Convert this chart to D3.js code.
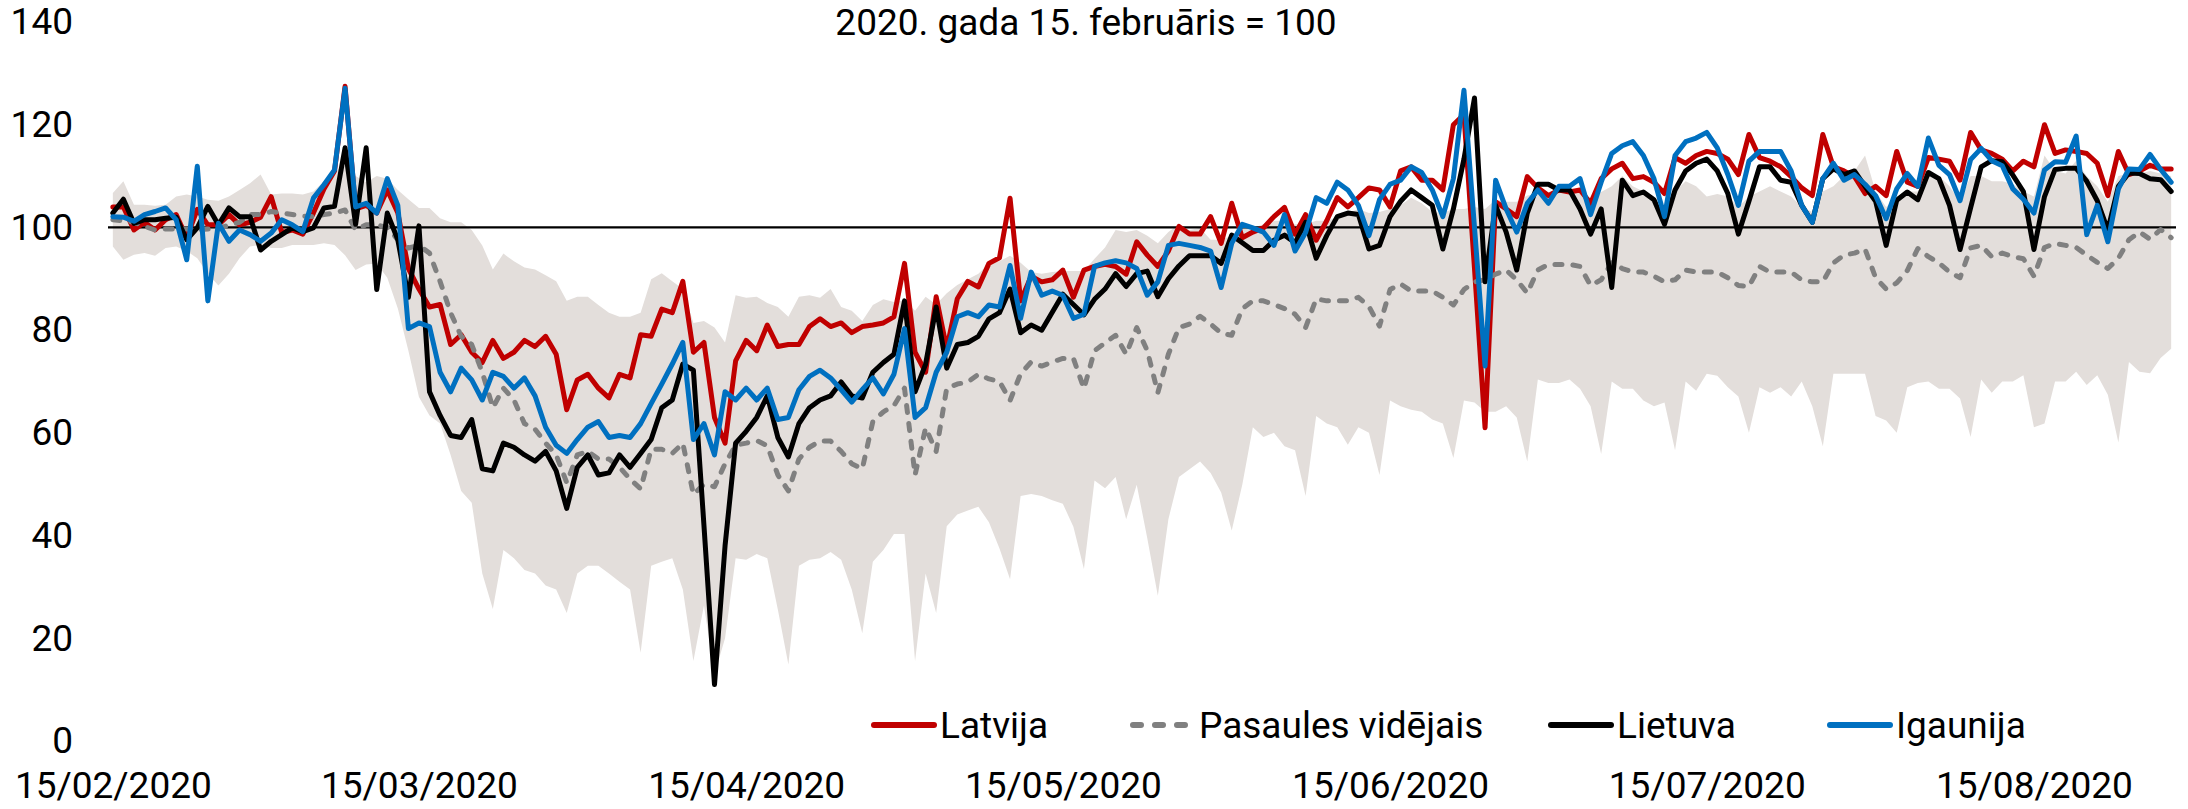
<!DOCTYPE html>
<html lang="lv">
<head>
<meta charset="utf-8">
<title>Baltijas valstis un pasaule</title>
<script src="https://cdn.jsdelivr.net/npm/d3@7"></script>
<style>
  html, body { margin: 0; padding: 0; background: #fff; }
  svg { display: block; font-family: Roboto, "Open Sans", sans-serif; }
</style>
</head>
<body>
<svg id="chart"></svg>
<script>
'use strict';

// daily values from 15/02/2020, one per day
const startDay = '2020-02-15';
const title = '2020. gada 15. februāris = 100';
const tickLabels = ['15/02/2020', '15/03/2020', '15/04/2020', '15/05/2020', '15/06/2020', '15/07/2020', '15/08/2020'];
const yTicks = [0, 20, 40, 60, 80, 100, 120, 140];
const seriesNames = ['Latvija', 'Pasaules vidējais', 'Lietuva', 'Igaunija'];

const latvija = [
  104, 104, 99.5, 101, 99.5, 101.5, 102.5, 98, 103.5, 100.5,
  100.5, 102.5, 100.5, 101, 102, 106, 99, 99.5, 98.7, 102.8,
  107.5, 111, 127.5, 103.6, 104.3, 102.8, 107.3, 102.8, 92, 88,
  84.5, 85, 77.2, 79.1, 75.7, 73.7, 78, 74.5, 75.7, 78,
  76.8, 78.8, 75.3, 64.5, 70.3, 71.4, 68.7, 66.8, 71.4, 70.7,
  79.1, 78.8, 84.1, 83.4, 89.5, 75.7, 77.6, 63, 58, 74,
  78, 76, 81, 76.8, 77.2, 77.2, 80.7, 82.2, 80.7, 81.4,
  79.5, 80.7, 81, 81.4, 82.6, 93, 75.7, 71.8, 86.5, 76.4,
  86.1, 89.5, 88.4, 93, 94.1, 105.7, 85.7, 90.5, 89.4, 89.8,
  91.7, 86.4, 91.7, 92.4, 92.8, 92.4, 90.9, 97.2, 94.6, 92.4,
  95.4, 100.2, 98.7, 98.7, 102.1, 96.9, 104.7, 98, 99.1, 99.9,
  102.1, 103.9, 98.7, 102.5, 97.5, 101.3, 105.8, 104, 105.8, 107.7,
  107.3, 104, 111, 111.8, 109.2, 109.2, 107.3, 120, 122, 92,
  61, 105, 103.6, 102.1, 109.9, 107.7, 106.2, 107.3, 106.9, 107.3,
  104.7, 109.5, 111.4, 112.5, 109.5, 109.9, 108.8, 106.6, 113.6, 112.5,
  114, 114.8, 114.4, 113.3, 110.3, 118.1, 113.6, 112.9, 111.8, 109.9,
  107.7, 106.2, 118.1, 111.8, 111, 109.9, 106.6, 108, 106.2, 114.8,
  108.8, 108, 113.6, 113.3, 112.9, 109.2, 118.5, 115.1, 114.4, 113.3,
  111, 112.9, 111.8, 120, 114.4, 115.1, 114.8, 114.4, 112.5, 106.2,
  114.8, 110.3, 111, 112.1, 111.4, 111.4
];

const pasaule = [
  101.5, 101.3, 101, 100.2, 99.5, 99.7, 99.7, 99.7, 99.5, 99.7,
  99.7, 100.5, 101, 102.5, 102.5, 103.1, 102.8, 102.5, 102.2, 102.1,
  102.5, 102.8, 103.4, 99.5, 100.5, 100.5, 100, 97.6, 96, 96.5,
  95, 89.5, 83.4, 78.8, 77.2, 71.8, 64.9, 68.7, 66.4, 61.8,
  60.7, 58, 55.7, 50.3, 55.7, 56.4, 54.9, 54.9, 53.3, 51,
  49.1, 56.8, 56.8, 56, 58, 48, 50, 49.5, 54, 57.6,
  58, 58.5, 57.5, 51.8, 48.7, 54.9, 57.2, 58.4, 58.4, 56.4,
  54, 53, 62.2, 64.1, 65.3, 68.7, 51.8, 61, 56.4, 68.7,
  69.5, 69.9, 71.4, 70.5, 70, 66.3, 71.5, 73.8, 73, 73.8,
  74.5, 74.5, 68.6, 76, 77.5, 79, 75.3, 80.5, 76, 67.8,
  75.3, 80.5, 81.2, 82.7, 81.2, 79.4, 79, 84.2, 85.7, 85.7,
  85, 84.2, 83.1, 80.5, 86.1, 85.7, 85.7, 85.7, 86.4, 84.6,
  80.8, 87.9, 89, 87.6, 87.6, 87.6, 86.4, 84.9, 87.9, 89.4,
  89.8, 90.9, 91.7, 89.8, 87.2, 91.7, 92.8, 92.8, 92.8, 92.4,
  88.7, 89.8, 93.1, 92, 91.3, 91.3, 90.5, 89.4, 89.8, 91.7,
  91.3, 91.3, 91.3, 90.2, 88.7, 88.5, 92.4, 91.3, 91.3, 91.3,
  89.8, 89.4, 89.4, 93.1, 94.6, 95, 95.8, 90.2, 88, 89.2,
  91.6, 95.9, 94.3, 93.1, 91.3, 90.2, 96, 96.5, 94.3, 95,
  94.3, 93.9, 90.5, 96.1, 96.9, 96.5, 96.1, 94.6, 93.2, 92,
  94, 97.6, 99.1, 97.7, 99.6, 98
];

const lietuva = [
  102.8, 105.5, 100.8, 101.5, 101.5, 101.8, 102, 97.6, 99.9, 104.1,
  100.5, 103.8, 102.1, 102.1, 95.6, 97.3, 98.6, 99.9, 99.2, 99.9,
  103.8, 104.1, 115.5, 100.6, 115.5, 87.9, 102.8, 97.6, 86.4, 100.3,
  68, 63.4, 59.5, 59.1, 62.6, 53, 52.6, 58, 57.2, 55.7,
  54.5, 56.4, 52.6, 45.3, 53.3, 55.7, 51.8, 52.2, 55.7, 53.3,
  56, 58.7, 64.9, 66.4, 73.4, 72.2, 42, 11, 38, 58,
  60.3, 63, 67.2, 59.1, 55.3, 61.8, 64.9, 66.4, 67.2, 69.9,
  67.2, 66.8, 71.8, 73.7, 75.3, 85.7, 68, 73.4, 84.5, 72.6,
  77.2, 77.6, 78.8, 82.2, 83.4, 88, 79.5, 81, 80, 83.5,
  87, 85, 83, 86, 88, 91, 88.5, 91, 91.5, 86.5,
  90, 92.5, 94.5, 94.5, 94.5, 93, 98.5, 97, 95.5, 95.5,
  97.5, 98.5, 97, 101, 94, 98.4, 102.1, 102.8, 102.5, 95.8,
  96.5, 102.1, 105.1, 107.3, 105.8, 104.3, 95.8, 103.6, 113.3, 125.2,
  89.4, 104.3, 99.1, 91.7, 102.8, 108.4, 108.4, 107.3, 107.3, 103.6,
  98.7, 103.6, 88.3, 109.2, 106.2, 106.9, 105.4, 100.6, 107.3, 111,
  112.5, 113.3, 111, 106.6, 98.7, 105.1, 111.8, 111.8, 109.2, 108.8,
  104.3, 101, 109.5, 111.4, 110.3, 111, 108, 105.1, 96.5, 105.3,
  106.9, 105.4, 110.7, 109.5, 104.3, 95.7, 103.8, 111.8, 113, 112.8,
  110.2, 107, 95.7, 106, 111.3, 111.5, 111.5, 109, 105.2, 99.5,
  108, 110.6, 110.5, 109.5, 109.3, 107
];

const igaunija = [
  102.1, 102, 101.2, 102.5, 103.1, 103.8, 101.5, 93.7, 111.9, 85.7,
  100.8, 97.3, 99.5, 98.6, 97.3, 98.9, 101.5, 100.5, 99.2, 105.7,
  108.3, 111.2, 127.1, 104, 104.7, 102.8, 109.5, 104.3, 80.3, 81.4,
  80.7, 71.8, 68, 72.6, 70.3, 66.4, 71.8, 71, 68.7, 70.7,
  67.2, 61.1, 57.6, 56, 58.7, 61.1, 62.2, 59.1, 59.5, 59.1,
  61.8, 65.7, 69.5, 73.4, 77.6, 58.7, 61.8, 55.7, 68, 66.4,
  68.7, 66.4, 68.7, 62.6, 63, 68.4, 71, 72.2, 70.7, 68.4,
  66, 68.4, 70.7, 67.6, 71.4, 80.3, 63, 64.9, 71.8, 75.7,
  82.6, 83.4, 82.6, 84.9, 84.5, 92.6, 82.3, 91.3, 86.8, 87.6,
  86.8, 82.3, 83.1, 92.4, 93.1, 93.5, 93.1, 92, 86.8, 89.4,
  96.5, 96.9, 96.5, 96.1, 95.4, 88.3, 96.9, 100.6, 99.9, 99.1,
  96.5, 102.5, 95.4, 99, 105.8, 104.7, 108.8, 107.3, 104.3, 98.4,
  105.4, 108.4, 109.2, 111.8, 110.7, 107.3, 102.1, 109.5, 126.7, 100,
  73, 109.2, 103.6, 99.1, 104.7, 107.3, 104.7, 108, 108, 109.5,
  102.5, 108.8, 114.4, 115.9, 116.7, 114, 109.5, 102.1, 114, 116.7,
  117.4, 118.5, 115.5, 110.3, 104.3, 112.9, 114.8, 114.8, 114.8, 111,
  104.3, 101, 109.5, 112.5, 109.2, 110.3, 108.4, 106.2, 101.7, 107.5,
  110.5, 108, 117.4, 112.1, 110.3, 105.2, 113.2, 115.4, 113, 112,
  107.5, 105.5, 102.8, 111.2, 112.8, 112.7, 117.8, 98.6, 104.3, 97.2,
  107.5, 111.4, 111.3, 114.2, 111.3, 108.8
];

// range of all countries: lower and upper edge of the shaded band
const bandMin = [
  96.3, 93.7, 94.7, 95, 94.5, 96, 96.3, 95.4, 94, 91,
  88.7, 91, 94, 96.3, 96.6, 96, 96, 96.6, 96.6, 96.6,
  96.9, 96.6, 94.6, 91.7, 92.8, 93, 90.2, 84.2, 76, 67,
  63.4, 61.8, 55.7, 48.7, 46.4, 32.6, 25.7, 37.2, 35.6, 33.3,
  32.6, 30.3, 29.5, 24.9, 32.6, 34.1, 34.1, 32.6, 31, 29.5,
  17.2, 34.1, 34.9, 35.6, 29.5, 15.6, 26.4, 13, 20, 35.6,
  35.3, 36.4, 35.6, 25.6, 14.9, 34.1, 35.3, 35.6, 36.8, 35.3,
  29.5, 21, 34.9, 37.2, 40.3, 40.3, 15.6, 32.6, 24.9, 41.8,
  44.1, 44.9, 45.6, 42.6, 37.5, 31.5, 47.7, 48.1, 47.7, 46.9,
  46.2, 41.7, 33.5, 50.7, 49.2, 51.4, 43.2, 49.9, 39.5, 28.3,
  43.2, 51.4, 52.9, 54.4, 52.2, 48.4, 41, 49.9, 61.1, 59.2,
  60, 57.4, 56.6, 47.7, 63.3, 61.8, 61.1, 57.7, 61.1, 60,
  51.8, 66.3, 65.2, 64.5, 64.1, 62.6, 61.8, 55.1, 66.3, 65.9,
  64.1, 64.1, 65.2, 63, 54.4, 70.4, 69.7, 69.7, 70.4, 68.6,
  65.2, 55.9, 70, 68.6, 68.6, 66.3, 65.2, 65.9, 56.6, 70,
  68.2, 71.5, 71.1, 68.9, 67.1, 60, 68.9, 67.8, 68.9, 67.1,
  70, 65.2, 57.4, 71.5, 71.5, 71.5, 71.5, 63.3, 62.4, 60,
  68.9, 69.7, 70, 68.6, 68.6, 66.7, 59.2, 70.4, 67.8, 70,
  70, 71.2, 61.1, 61.8, 70, 70, 71.9, 69.3, 71.2, 67.4,
  58.1, 73.8, 71.9, 71.6, 74.6, 76.4
];

const bandMax = [
  106.7, 109, 104.4, 104.4, 104.2, 104.4, 106, 106.4, 106, 105.4,
  105.2, 106, 107.3, 108.6, 110.3, 106.4, 106.6, 106.6, 106.4, 107,
  109, 110.9, 112, 110, 108.8, 110, 109.5, 107.3, 105.5, 103.8,
  103.8, 101.8, 101, 101, 99.5, 96.5, 91.8, 94.9, 93.4, 92.2,
  91.8, 90.7, 89.5, 85.7, 86.5, 86.5, 84.9, 83.4, 82.6, 82.6,
  83.4, 89.9, 91.1, 89.5, 88, 81.4, 81.8, 80.5, 77.6, 86.8,
  86.3, 86.5, 85.3, 84.5, 82.6, 86.5, 86.8, 86.3, 88, 84.5,
  83.8, 81.8, 84.9, 86, 85.5, 85.8, 83.8, 86.5, 85, 87.2,
  88.8, 89.9, 91, 93, 93.4, 94.5, 93.1, 91.3, 91, 91.3,
  91.5, 91.5, 91.5, 93.9, 96.1, 99.5, 99.1, 99.5, 98.4, 96.9,
  99.1, 100.6, 99.5, 99.9, 97.6, 97.6, 98.4, 99.9, 99.9, 100.6,
  101.3, 101.3, 100.6, 100.6, 101.3, 101.3, 102, 102.8, 103.6, 102.8,
  103, 103.6, 104.3, 105.8, 104.7, 103, 102.8, 103.6, 103.6, 104,
  103.6, 105.4, 105, 105, 106.2, 106.6, 106.9, 107.3, 107.3, 106.9,
  105.8, 106.9, 108, 110, 108, 107, 106, 104, 107, 109,
  108, 106, 106.5, 106, 104, 106, 107, 108, 107, 106,
  104, 103, 107, 108, 110, 111, 114, 107, 104, 106,
  107, 107, 110, 110, 108, 105, 110, 110, 109, 109,
  108.5, 107, 106, 114, 111, 110.5, 113, 110, 108, 105,
  110, 110.5, 110.5, 111, 110.5, 110
];

const width = 2188;
const height = 809;
const fontSize = 37;

const start = d3.utcParse('%Y-%m-%d')(startDay);
const days = latvija.map((_, i) => d3.utcDay.offset(start, i));
const last = days[days.length - 1];

const x = d3.scaleUtc()
    .domain([d3.utcHour.offset(start, -11), d3.utcHour.offset(last, 11)])
    .range([108, 2176]);

const y = d3.scaleLinear()
    .domain([0, 140])
    .range([741, 22]);

const svg = d3.select('#chart')
    .attr('width', width)
    .attr('height', height)
    .attr('viewBox', `0 0 ${width} ${height}`)
    .style('font-size', `${fontSize}px`);

const band = d3.area()
    .x((d, i) => x(days[i]))
    .y0((d, i) => y(bandMin[i]))
    .y1(d => y(d));

svg.append('path')
    .datum(bandMax)
    .attr('fill', '#e3dedb')
    .attr('d', band);

// category axis crosses at 100
svg.append('line')
    .attr('x1', x.range()[0])
    .attr('x2', x.range()[1])
    .attr('y1', y(100))
    .attr('y2', y(100))
    .attr('stroke', '#000')
    .attr('stroke-width', 2.2);

const line = d3.line()
    .x((d, i) => x(days[i]));

const series = [
  { name: seriesNames[0], values: latvija, color: '#c00000', dash: null },
  { name: seriesNames[1], values: pasaule, color: '#808080', dash: '7,11' },
  { name: seriesNames[2], values: lietuva, color: '#000000', dash: null },
  { name: seriesNames[3], values: igaunija, color: '#0070c0', dash: null }
];

series.forEach(s => {
  svg.append('path')
      .datum(s.values)
      .attr('fill', 'none')
      .attr('stroke', s.color)
      .attr('stroke-width', 5)
      .attr('stroke-linejoin', 'round')
      .attr('stroke-linecap', 'round')
      .attr('stroke-dasharray', s.dash)
      .attr('d', line.y(d => y(d)));
});

const yAxis = d3.axisLeft(y)
    .tickValues(yTicks)
    .tickSize(0)
    .tickPadding(6);

svg.append('g')
    .attr('class', 'y-axis')
    .attr('transform', 'translate(79, 0)')
    .call(yAxis);

const parseTick = d3.utcParse('%d/%m/%Y');
const xAxis = d3.axisBottom(x)
    .tickValues(tickLabels.map(parseTick))
    .tickFormat(d3.utcFormat('%d/%m/%Y'))
    .tickSize(0)
    .tickPadding(0);

svg.append('g')
    .attr('class', 'x-axis')
    .attr('transform', 'translate(0, 772)')
    .call(xAxis);

svg.selectAll('.domain').remove();
svg.selectAll('.tick text')
    .attr('fill', '#000')
    .style('font-size', `${fontSize}px`)
    .style('font-family', 'Roboto, "Open Sans", sans-serif');

svg.append('text')
    .attr('x', 1086)
    .attr('y', 35)
    .attr('text-anchor', 'middle')
    .attr('fill', '#000')
    .text(title);

// legend
const legendX = [871, 1130, 1548, 1827];
const legendY = 725;

const legend = svg.append('g')
    .attr('class', 'legend');

series.forEach((s, i) => {
  const g = legend.append('g')
      .attr('transform', `translate(${legendX[i]}, ${legendY})`);

  g.append('line')
      .attr('x1', 3)
      .attr('x2', 63)
      .attr('stroke', s.color)
      .attr('stroke-width', 6)
      .attr('stroke-linecap', 'round')
      .attr('stroke-dasharray', s.dash ? '8,14' : null);

  g.append('text')
      .attr('x', 69)
      .attr('y', 13)
      .attr('fill', '#000')
      .text(s.name);
});
</script>
</body>
</html>
